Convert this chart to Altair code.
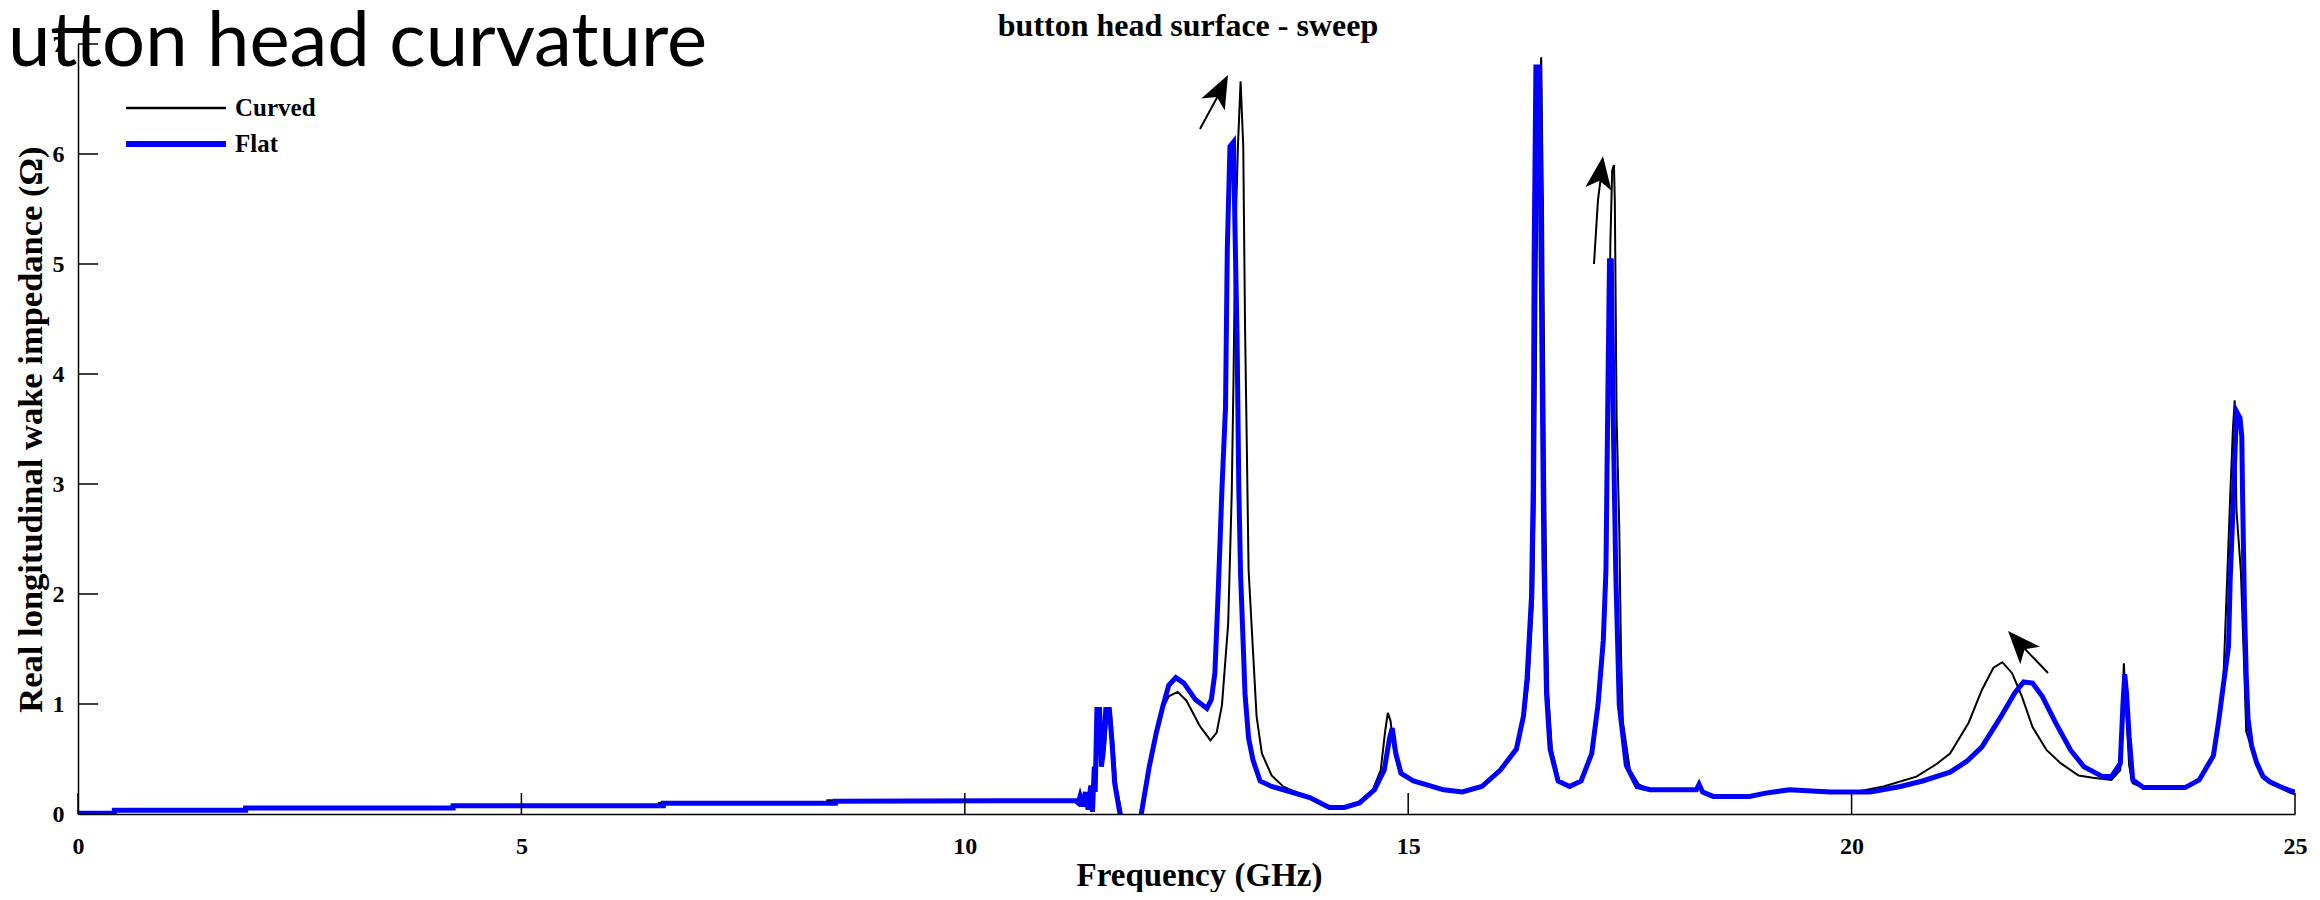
import altair as alt
import pandas as pd

SERIF = "Liberation Serif"

# ---------------- data ----------------
flat_f = [0, 0.41, 0.41, 1.89, 1.89, 4.23, 4.23, 6.6, 6.6, 8.54, 8.54, 10.4, 11.25,
          11.28, 11.30, 11.33, 11.36, 11.39, 11.42, 11.44, 11.46, 11.47, 11.49, 11.52, 11.54,
          11.56, 11.59, 11.63, 11.66, 11.69, 11.75, 11.87, 11.99, 12.08, 12.16, 12.23, 12.3,
          12.38, 12.47, 12.6, 12.73, 12.78, 12.82, 12.86, 12.9, 12.94, 12.96, 12.99, 13.03,
          13.05, 13.07, 13.09, 13.11, 13.14, 13.16, 13.2, 13.25, 13.33, 13.46, 13.68, 13.89,
          14.11, 14.28, 14.45, 14.62, 14.73, 14.79, 14.82, 14.86, 14.92, 15.06, 15.4, 15.61,
          15.83, 16.04, 16.22, 16.3, 16.34, 16.39, 16.41, 16.42, 16.44, 16.48, 16.51, 16.53,
          16.56, 16.6, 16.69, 16.82, 16.95, 17.07, 17.14, 17.2, 17.23, 17.25, 17.27, 17.29,
          17.31, 17.34, 17.38, 17.46, 17.58, 17.73, 18.25, 18.28, 18.32, 18.44, 18.85, 19.03,
          19.3, 19.76, 20.21, 20.55, 20.8, 21.11, 21.3, 21.47, 21.68, 21.84, 21.94, 22.04,
          22.15, 22.3, 22.47, 22.62, 22.83, 22.93, 23.03, 23.06, 23.08, 23.1, 23.13, 23.17,
          23.29, 23.76, 23.92, 24.08, 24.14, 24.19, 24.25, 24.27, 24.3, 24.34, 24.38, 24.4,
          24.41, 24.43, 24.45, 24.47, 24.51, 24.57, 24.64, 24.72, 24.83, 24.95, 25.0]
flat_z = [0.006, 0.006, 0.035, 0.035, 0.055, 0.055, 0.075, 0.075, 0.097, 0.097, 0.115, 0.12, 0.12,
          0.10, 0.16, 0.07, 0.20, 0.04, 0.26, 0.02, 0.43, 0.20, 0.95, 0.95, 0.43,
          0.55, 0.95, 0.95, 0.65, 0.28, 0.0, -0.3, 0.0, 0.43, 0.74, 0.97, 1.17,
          1.24, 1.19, 1.04, 0.96, 1.04, 1.28, 2.07, 2.96, 3.7, 5.13, 6.07, 6.11,
          5.18, 4.34, 2.96, 2.17, 1.53, 1.09, 0.69, 0.49, 0.30, 0.25, 0.20, 0.15,
          0.06, 0.06, 0.10, 0.22, 0.40, 0.69, 0.78, 0.55, 0.37, 0.30, 0.22, 0.20,
          0.25, 0.40, 0.59, 0.89, 1.23, 1.97, 2.96, 5.03, 6.79, 6.79, 4.05, 2.32,
          1.09, 0.59, 0.30, 0.25, 0.30, 0.55, 0.99, 1.58, 2.22, 3.7, 5.03, 5.03,
          3.7, 2.22, 0.99, 0.44, 0.25, 0.22, 0.22, 0.27, 0.20, 0.16, 0.16, 0.19,
          0.22, 0.20, 0.20, 0.25, 0.30, 0.38, 0.48, 0.61, 0.88, 1.10, 1.20, 1.19,
          1.07, 0.83, 0.58, 0.43, 0.34, 0.34, 0.46, 1.0, 1.27, 1.1, 0.7, 0.31,
          0.24, 0.24, 0.31, 0.53, 0.85, 1.16, 1.52, 2.15, 2.76, 3.66, 3.6, 3.43,
          2.84, 1.88, 1.26, 0.87, 0.62, 0.46, 0.34, 0.29, 0.25, 0.21, 0.20]

curved_f = [0, 0.41, 0.41, 1.89, 1.89, 4.23, 4.23, 6.55, 6.55, 8.45, 8.45, 11.25,
            11.3, 11.4, 11.46, 11.5, 11.53, 11.55, 11.58, 11.61, 11.65, 11.68, 11.71, 11.77,
            11.88, 11.99, 12.08, 12.16, 12.24, 12.3, 12.4, 12.5, 12.65, 12.77, 12.84, 12.9,
            12.97, 13.01, 13.03, 13.05, 13.08, 13.11, 13.14, 13.16, 13.18, 13.2, 13.25, 13.29,
            13.35, 13.46, 13.59, 13.7, 13.89, 14.11, 14.28, 14.45, 14.6, 14.69, 14.74, 14.77,
            14.8, 14.84, 14.9, 15.06, 15.4, 15.61, 15.83, 16.04, 16.22, 16.31, 16.36, 16.41,
            16.43, 16.45, 16.48, 16.5, 16.52, 16.54, 16.56, 16.58, 16.62, 16.7, 16.82, 16.95,
            17.07, 17.15, 17.21, 17.24, 17.26, 17.28, 17.3, 17.32, 17.33, 17.35, 17.38, 17.4,
            17.42, 17.5, 17.6, 17.73, 18.25, 18.28, 18.32, 18.44, 18.85, 19.03, 19.3, 19.76,
            20.1, 20.36, 20.73, 20.95, 21.11, 21.32, 21.47, 21.6, 21.7, 21.81, 21.92, 22.04,
            22.2, 22.36, 22.56, 22.72, 22.93, 23.03, 23.05, 23.07, 23.1, 23.13, 23.17, 23.29,
            23.76, 23.92, 24.08, 24.14, 24.19, 24.23, 24.27, 24.3, 24.32, 24.34, 24.39, 24.43,
            24.45, 24.51, 24.57, 24.64, 24.72, 24.83, 24.95, 25.0]
curved_z = [0.004, 0.004, 0.03, 0.03, 0.05, 0.05, 0.07, 0.07, 0.10, 0.10, 0.125, 0.125,
            0.12, 0.13, 0.30, 0.90, 0.90, 0.50, 0.60, 0.93, 0.90, 0.60, 0.25, 0.0,
            -0.3, 0.0, 0.43, 0.74, 0.97, 1.07, 1.11, 1.03, 0.80, 0.67, 0.74, 0.99,
            1.73, 2.91, 3.95, 5.23, 6.07, 6.66, 6.07, 4.44, 3.35, 2.22, 1.48, 0.89,
            0.55, 0.35, 0.25, 0.21, 0.15, 0.06, 0.06, 0.10, 0.22, 0.40, 0.75, 0.92,
            0.85, 0.58, 0.38, 0.30, 0.22, 0.20, 0.25, 0.40, 0.59, 0.89, 1.23, 1.97,
            2.96, 5.10, 6.50, 6.88, 5.50, 3.30, 1.90, 1.09, 0.59, 0.30, 0.25, 0.30,
            0.55, 0.99, 1.58, 2.22, 3.70, 5.20, 5.85, 5.90, 5.57, 3.60, 2.60, 1.44,
            0.84, 0.40, 0.27, 0.22, 0.22, 0.27, 0.20, 0.16, 0.16, 0.19, 0.22, 0.21,
            0.21, 0.25, 0.34, 0.45, 0.55, 0.83, 1.13, 1.33, 1.38, 1.28, 1.07, 0.79,
            0.58, 0.46, 0.35, 0.33, 0.31, 0.40, 0.90, 1.37, 0.90, 0.44, 0.28, 0.24,
            0.24, 0.31, 0.53, 0.85, 1.16, 2.03, 2.90, 3.50, 3.76, 2.76, 2.20, 1.26,
            0.75, 0.60, 0.44, 0.33, 0.28, 0.24, 0.19, 0.18]

x_ticks = [0, 5, 10, 15, 20, 25]
y_ticks = [0, 1, 2, 3, 4, 5, 6, 7]

series_names = ["Curved", "Flat"]
series_colors = ["#000000", "#0000ff"]

# hand-drawn arrows (in data units)
arrow_id = [1, 1, 2, 2, 2, 3, 3]
arrow_f = [12.652, 12.93, 17.095, 17.14, 17.19, 22.215, 21.80]
arrow_z = [6.227, 6.64, 5.00, 5.58, 5.90, 1.282, 1.63]
head_f = [12.968, 17.197, 21.764]
head_z = [6.718, 5.98, 1.664]
head_dir = [27, 8, 318]

chart_title = "button head surface - sweep"
slide_title = "utton head curvature"
x_title = "Frequency (GHz)"
y_title = "Real longitudinal wake impedance (Ω)"

# ---------------- tables ----------------
flat_df = pd.DataFrame({"f": flat_f, "z": flat_z, "i": range(len(flat_f))})
curved_df = pd.DataFrame({"f": curved_f, "z": curved_z, "i": range(len(curved_f))})
xt_df = pd.DataFrame({"f": x_ticks})
yt_df = pd.DataFrame({"z": y_ticks})
arrow_df = pd.DataFrame({"a": arrow_id, "f": arrow_f, "z": arrow_z, "i": range(len(arrow_f))})
head_df = pd.DataFrame({"f": head_f, "z": head_z, "ang": head_dir})

W, H = 2217, 770

xs = alt.Scale(domain=[0, 25], nice=False, zero=False)
ys = alt.Scale(domain=[0, 7], nice=False, zero=False)

x_axis = alt.Axis(
    title=x_title, values=x_ticks, format="d", ticks=False, tickSize=0, grid=False,
    domainColor="black", domainWidth=1.5,
    labelFont=SERIF, labelFontSize=24, labelFontWeight="bold", labelColor="black",
    labelPadding=20, labelFlush=False, labelOverlap=False,
    titleFont=SERIF, titleFontSize=33, titleFontWeight="bold", titleColor="black",
    titleX=1121, titleY=71, titleBaseline="alphabetic", titleAlign="center",
)
y_axis = alt.Axis(
    title=y_title, values=y_ticks, format="d", ticks=False, tickSize=0, grid=False,
    domainColor="black", domainWidth=1.5,
    labelFont=SERIF, labelFontSize=24, labelFontWeight="bold", labelColor="black",
    labelPadding=14, labelFlush=False, labelOverlap=False,
    titleFont=SERIF, titleFontSize=34.5, titleFontWeight="bold", titleColor="black",
    titleAngle=270, titleX=-37, titleY=385, titleBaseline="alphabetic", titleAlign="center",
)

X = lambda: alt.X("f:Q", scale=xs, axis=x_axis)
Y = lambda: alt.Y("z:Q", scale=ys, axis=y_axis)

curved = alt.Chart(curved_df).mark_line(color=series_colors[0], strokeWidth=2, clip=True).encode(
    x=X(), y=Y(), order="i:Q")
flat = alt.Chart(flat_df).mark_line(color=series_colors[1], strokeWidth=5, clip=True).encode(
    x=X(), y=Y(), order="i:Q")

xticks = alt.Chart(xt_df).mark_rule(color="black", strokeWidth=1.5).encode(
    x=X(), y=alt.value(H - 21), y2=alt.value(H))
yticks = alt.Chart(yt_df).mark_rule(color="black", strokeWidth=1.5).encode(
    y=Y(), x=alt.value(0), x2=alt.value(20))

shafts = alt.Chart(arrow_df).mark_line(color="black", strokeWidth=2).encode(
    x=X(), y=Y(), detail="a:N", order="i:Q")
heads = alt.Chart(head_df).mark_point(
    shape="M0,0 L0.4,1 L0,0.75 L-0.4,1 Z", filled=True, color="black", opacity=1, size=4356,
    strokeWidth=0).encode(x=X(), y=Y(), angle=alt.Angle("ang:Q", scale=None))

# legend (drawn by hand to match the figure's legend box)
leg = []
leg_y = [64, 100]
leg_w = [2.5, 6]
for name, col, yy, sw in zip(series_names, series_colors, leg_y, leg_w):
    d = pd.DataFrame({"label": [name]})
    leg.append(alt.Chart(d).mark_rule(color=col, strokeWidth=sw).encode(
        x=alt.value(48), x2=alt.value(148), y=alt.value(yy)))
    leg.append(alt.Chart(d).mark_text(font=SERIF, fontSize=25, fontWeight="bold", color="black",
                                      align="left", baseline="middle").encode(
        x=alt.value(157), y=alt.value(yy), text="label:N"))

title_txt = alt.Chart(pd.DataFrame({"label": [chart_title]})).mark_text(
    font=SERIF, fontSize=32, fontWeight="bold", color="black", align="center",
    baseline="alphabetic").encode(x=alt.value(1110), y=alt.value(-8), text="label:N")
slide_txt = alt.Chart(pd.DataFrame({"label": [slide_title]})).mark_text(
    font="Lato", fontSize=76, color="black", align="left",
    baseline="alphabetic").encode(x=alt.value(-70), y=alt.value(22), text="label:N")

chart = alt.layer(
    curved, flat, xticks, yticks, shafts, heads, *leg, title_txt, slide_txt
).properties(
    width=W, height=H,
    padding={"left": 70, "top": 36, "right": 17, "bottom": 78},
    autosize=alt.AutoSizeParams(type="none"),
    background="white",
).configure_view(stroke=None)

chart.save("out.html", embed_options={"renderer": "svg", "actions": False})
